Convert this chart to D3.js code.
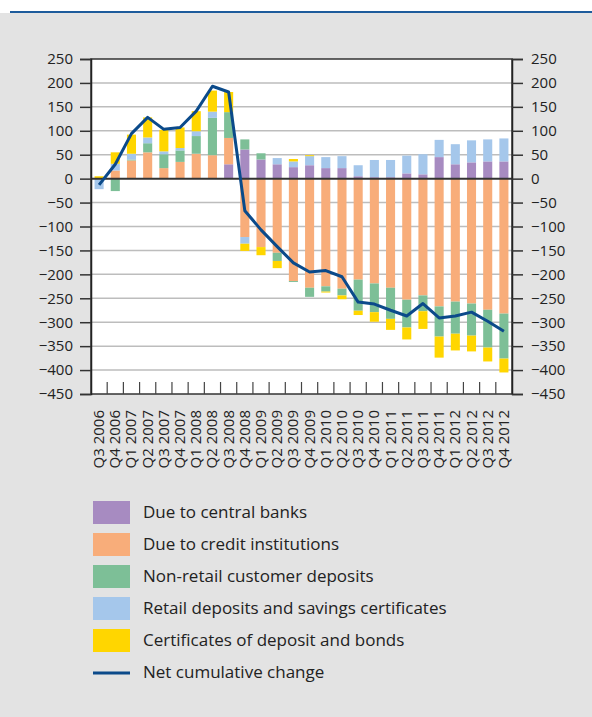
<!DOCTYPE html>
<html>
<head>
<meta charset="utf-8">
<script src="https://cdn.jsdelivr.net/npm/d3@7"></script>
<style>
  html, body { margin: 0; padding: 0; background: #fff; }
  svg { display: block; }
  text { font-family: "Open Sans", "Noto Sans", sans-serif; fill: #222; }
</style>
</head>
<body>
<svg id="chart" width="592" height="717"></svg>
<script>
const categories = ["Q3 2006","Q4 2006","Q1 2007","Q2 2007","Q3 2007","Q4 2007","Q1 2008","Q2 2008","Q3 2008","Q4 2008","Q1 2009","Q2 2009","Q3 2009","Q4 2009","Q1 2010","Q2 2010","Q3 2010","Q4 2010","Q1 2011","Q2 2011","Q3 2011","Q4 2011","Q1 2012","Q2 2012","Q3 2012","Q4 2012"];
const centralBanks = [0,0,0,0,0,0,0,0,30,61,40,30,24,28,22,22,5,3,3,11,9,45,30,34,36,36];
const creditInst = [0,17,38,55,22,35,52,49,55,-122,-143,-155,-214,-228,-225,-230,-211,-219,-228,-253,-244,-267,-257,-261,-274,-282];
const nonRetail = [0,-26,2,19,29,24,37,78,54,21,13,-17,-2,-19,-11,-14,-65,-60,-65,-58,-33,-63,-67,-67,-79,-94];
const retail = [-22,14,12,12,6,5,10,13,0,-14,0,13,12,19,23,25,23,36,36,37,42,36,42,46,46,48];
const certificates = [5,24,40,42,45,43,42,44,42,-15,-17,-15,5,2,-2,-8,-9,-20,-23,-25,-37,-44,-35,-33,-29,-29];
const netChange = [-13,30,94,128,103,107,141,193,181,-67,-107,-142,-176,-195,-192,-205,-258,-262,-275,-287,-261,-291,-287,-279,-298,-319];
const yTicks = [250,200,150,100,50,0,-50,-100,-150,-200,-250,-300,-350,-400,-450];

const seriesNames = ["Due to central banks","Due to credit institutions","Non-retail customer deposits","Retail deposits and savings certificates","Certificates of deposit and bonds"];
const seriesValues = [centralBanks, creditInst, nonRetail, retail, certificates];
const colors = ["#a78bc1","#f8ad7a","#7dbf97","#a5c7eb","#ffd600"];
const lineName = "Net cumulative change";
const lineColor = "#0b4a8a";

const svg = d3.select("#chart");
// background
svg.append("rect").attr("x",0).attr("y",13).attr("width",592).attr("height",704).attr("fill","#e3e3e3");
svg.append("line").attr("x1",10).attr("x2",592).attr("y1",12).attr("y2",12).attr("stroke","#1e5c9c").attr("stroke-width",2);

const L = 91, R = 512, T = 59, B = 394;
const x = d3.scaleBand().domain(categories).range([L, R]).paddingInner(0.44).paddingOuter(0.22);
const y = d3.scaleLinear().domain([-450, 250]).range([B, T]);

svg.append("rect").attr("x",L).attr("y",T).attr("width",R-L).attr("height",B-T).attr("fill","#fff");

// gridlines
svg.append("g").selectAll("line").data(yTicks.filter(v => v !== 0 && v !== 250 && v !== -450)).join("line")
  .attr("x1",L).attr("x2",R).attr("y1",d=>y(d)).attr("y2",d=>y(d))
  .attr("stroke","#bdbdbd").attr("stroke-width",1.5);

// stacked data
const rows = categories.map((c,i) => {
  const o = {cat:c};
  seriesNames.forEach((s,j) => o[s] = seriesValues[j][i]);
  return o;
});
const stack = d3.stack().keys(seriesNames).offset(d3.stackOffsetDiverging)(rows);

svg.append("g").selectAll("g").data(stack).join("g")
  .attr("fill",(d,i)=>colors[i])
  .selectAll("rect").data(d=>d).join("rect")
  .attr("x",d=>x(d.data.cat))
  .attr("width",x.bandwidth())
  .attr("y",d=>y(Math.max(d[0],d[1])))
  .attr("height",d=>Math.abs(y(d[0])-y(d[1])));

// zero line
svg.append("line").attr("x1",L).attr("x2",R).attr("y1",y(0)).attr("y2",y(0)).attr("stroke","#333").attr("stroke-width",2);

// net line
const line = d3.line().x((d,i)=>x(categories[i])+x.bandwidth()/2).y(d=>y(d));
svg.append("path").datum(netChange).attr("d",line).attr("fill","none")
  .attr("stroke",lineColor).attr("stroke-width",3).attr("stroke-linejoin","round");

// frame
svg.append("rect").attr("x",L).attr("y",T).attr("width",R-L).attr("height",B-T)
  .attr("fill","none").attr("stroke","#333").attr("stroke-width",1.5);

// axes
const fmt = d3.format("d");
const leftAxis = d3.axisLeft(y).tickValues(yTicks).tickSize(11).tickPadding(7).tickFormat(fmt);
const rightAxis = d3.axisRight(y).tickValues(yTicks).tickSize(11).tickPadding(8).tickFormat(fmt);
const gl = svg.append("g").attr("transform",`translate(${L},0)`).call(leftAxis);
const gr = svg.append("g").attr("transform",`translate(${R},0)`).call(rightAxis);
[gl,gr].forEach(g=>{
  g.select(".domain").attr("stroke","#222").attr("stroke-width",1.5);
  g.selectAll(".tick line").attr("stroke","#333").attr("stroke-width",1.5);
  g.selectAll(".tick text").attr("font-size",15).attr("fill","#222")
    .attr("font-family",'"Open Sans", "Noto Sans", sans-serif');
});

// category boundary ticks (inside, at bottom)
const step = x.step();
const bounds = d3.range(1, categories.length).map(k => x(categories[k]) - x.paddingInner()*step/2);
svg.append("g").selectAll("line").data(bounds).join("line")
  .attr("x1",d=>d).attr("x2",d=>d).attr("y1",B).attr("y2",B-12)
  .attr("stroke","#444").attr("stroke-width",1.2);

// x labels
svg.append("g").selectAll("text").data(categories).join("text")
  .attr("transform",d=>`translate(${x(d)+x.bandwidth()/2+5},${410}) rotate(-90)`)
  .attr("text-anchor","end")
  .attr("font-size",15)
  .text(d=>d);

// legend
const lg = svg.append("g");
seriesNames.forEach((s,i)=>{
  const yy = 501 + i*32;
  lg.append("rect").attr("x",93).attr("y",yy).attr("width",37).attr("height",23).attr("fill",colors[i]);
  lg.append("text").attr("x",143).attr("y",yy+17).attr("font-size",17).text(s);
});
{
  const yy = 501 + 5*32;
  lg.append("line").attr("x1",93).attr("x2",130).attr("y1",yy+12).attr("y2",yy+12).attr("stroke",lineColor).attr("stroke-width",3);
  lg.append("text").attr("x",143).attr("y",yy+17).attr("font-size",17).text(lineName);
}
</script>
</body>
</html>
